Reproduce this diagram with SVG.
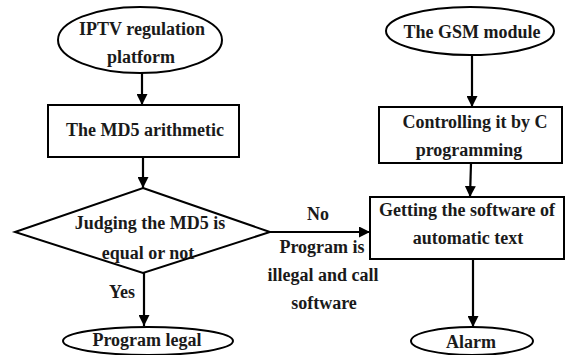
<svg xmlns="http://www.w3.org/2000/svg" width="566" height="355" viewBox="0 0 566 355">
<style>
.s{fill:#fff;stroke:#000;stroke-width:2}
.c{stroke:#000;stroke-width:2.2;fill:none}
text.k{font-family:'Liberation Serif',serif;font-weight:bold;font-size:18px;fill:#1a1a1a;text-anchor:middle}
</style>
<defs>
<marker id="ah" viewBox="0 0 10 10" refX="10" refY="5" markerWidth="5" markerHeight="5" orient="auto" markerUnits="strokeWidth">
<path d="M0,0 L10,5 L0,10 Z" fill="#000"/>
</marker>
</defs>
<rect width="566" height="355" fill="#fff"/>
<g id="connectors" marker-end="url(#ah)">
<line class="c" x1="142" y1="73" x2="142" y2="105" marker-end="url(#ah)"/>
<line class="c" x1="143" y1="157" x2="143" y2="188" marker-end="url(#ah)"/>
<line class="c" x1="144" y1="273" x2="144" y2="326" marker-end="url(#ah)"/>
<line class="c" x1="270" y1="232" x2="370" y2="232" marker-end="url(#ah)"/>
<line class="c" x1="472" y1="55" x2="472" y2="107" marker-end="url(#ah)"/>
<line class="c" x1="471" y1="163" x2="470" y2="197" marker-end="url(#ah)"/>
<line class="c" x1="473" y1="259" x2="473" y2="327" marker-end="url(#ah)"/>
</g>
<g id="labels">
<text class="k" x="318" y="220">No</text>
<text class="k" x="322" y="253">Program is</text>
<text class="k" x="323" y="281">illegal and call</text>
<text class="k" x="324" y="309">software</text>
<text class="k" x="122" y="298">Yes</text>
</g>
<g id="iptv">
<ellipse class="s" cx="140" cy="40" rx="82" ry="33"/>
<text class="k" x="142" y="35">IPTV regulation</text>
<text class="k" x="141" y="63">platform</text>
</g>
<g id="md5">
<rect class="s" x="48" y="105" width="191" height="52"/>
<text class="k" x="145" y="136">The MD5 arithmetic</text>
</g>
<g id="judge">
<polygon class="s" points="143,188 270,232 143,273 15,232"/>
<text class="k" x="150" y="229">Judging the MD5 is</text>
<text class="k" x="148" y="259">equal or not</text>
</g>
<g id="legal">
<ellipse class="s" cx="148" cy="341" rx="85" ry="14"/>
<text class="k" x="147" y="346">Program legal</text>
</g>
<g id="gsm">
<ellipse class="s" cx="470" cy="31" rx="84" ry="24"/>
<text class="k" x="472" y="38">The GSM module</text>
</g>
<g id="ctrl">
<rect class="s" x="379" y="107" width="183" height="56"/>
<text class="k" x="475" y="128">Controlling it by C</text>
<text class="k" x="469" y="156">programming</text>
</g>
<g id="getting">
<rect class="s" x="370" y="197" width="194" height="62"/>
<text class="k" x="467" y="216">Getting the software of</text>
<text class="k" x="468" y="244">automatic text</text>
</g>
<g id="alarm">
<ellipse class="s" cx="472" cy="341" rx="61" ry="14"/>
<text class="k" x="471" y="348">Alarm</text>
</g>
</svg>
